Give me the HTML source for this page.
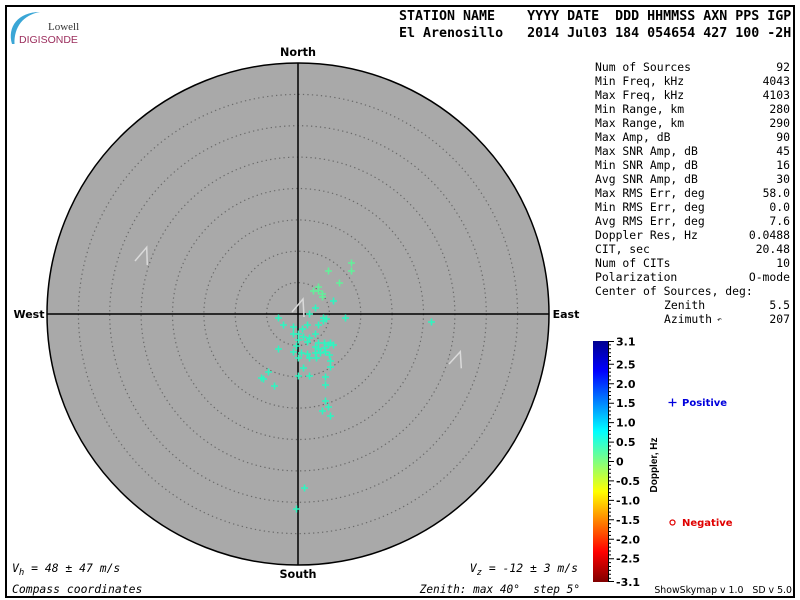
<!DOCTYPE html>
<html>
<head>
<meta charset="utf-8">
<style>
html,body{margin:0;padding:0;background:#fff;}
svg{display:block;}
.mono{font-family:"DejaVu Sans Mono","Liberation Mono",monospace;}
.bold{font-family:"DejaVu Sans","Liberation Sans",sans-serif;font-weight:bold;}
</style>
</head>
<body>
<svg width="800" height="600" viewBox="0 0 800 600" xmlns="http://www.w3.org/2000/svg">
<defs>
<linearGradient id="jet" x1="0" y1="0" x2="0" y2="1">
<stop offset="0" stop-color="#00008f"/>
<stop offset="0.125" stop-color="#0000ff"/>
<stop offset="0.375" stop-color="#00ffff"/>
<stop offset="0.5" stop-color="#80ff80"/>
<stop offset="0.625" stop-color="#ffff00"/>
<stop offset="0.875" stop-color="#ff0000"/>
<stop offset="1" stop-color="#800000"/>
</linearGradient>
</defs>
<rect x="0" y="0" width="800" height="600" fill="#fff"/>
<rect x="6" y="6" width="788" height="591" fill="none" stroke="#000" stroke-width="2"/>

<!-- logo -->
<path d="M12,44 C7,27 18,12 40,12 C23,15 14,27 14.5,44 Z" fill="#3aa6d6"/>
<text x="48" y="30" font-family="Liberation Serif, serif" font-size="11" fill="#333">Lowell</text>
<text x="19" y="43" font-family="Liberation Sans, sans-serif" font-size="10.5" fill="#9b2d5c">DIGISONDE</text>

<!-- header -->
<text class="mono" x="399" y="20" font-size="13.3" font-weight="bold" xml:space="preserve" style="white-space:pre">STATION NAME    YYYY DATE  DDD HHMMSS AXN PPS IGP</text>
<text class="mono" x="399" y="37" font-size="13.3" font-weight="bold" xml:space="preserve" style="white-space:pre">El Arenosillo   2014 Jul03 184 054654 427 100 -2H</text>

<!-- sky circle -->
<circle cx="298" cy="314" r="251" fill="#a9a9a9" stroke="#000" stroke-width="1.5"/>
<g fill="none" stroke="#6a6a6a" stroke-width="1.2" stroke-dasharray="1.3 3.2">
<circle cx="298" cy="314" r="31.4"/>
<circle cx="298" cy="314" r="62.8"/>
<circle cx="298" cy="314" r="94.1"/>
<circle cx="298" cy="314" r="125.5"/>
<circle cx="298" cy="314" r="156.9"/>
<circle cx="298" cy="314" r="188.3"/>
<circle cx="298" cy="314" r="219.6"/>
</g>
<line x1="47" y1="314" x2="549" y2="314" stroke="#000" stroke-width="1.5"/>
<line x1="298" y1="63" x2="298" y2="565" stroke="#000" stroke-width="1.5"/>

<!-- arrows -->
<g fill="none" stroke="#dadada" stroke-width="1.5">
<polyline points="135,261 146.7,247.3 147.3,265"/>
<polyline points="449,364 460.3,351.7 461.3,368.3"/>
<polyline points="292,312 303,299 304,317"/>
</g>

<!-- points -->
<g stroke="#62f09a" stroke-width="1.6" fill="none">
<path d="M348,263h7M351.5,259.5v7"/>
<path d="M348,271h7M351.5,267.5v7"/>
<path d="M325,271h7M328.5,267.5v7"/>
<path d="M336,283h7M339.5,279.5v7"/>
<path d="M315,287h7M318.5,283.5v7"/>
<path d="M310,291h7M313.5,287.5v7"/>
<path d="M315,291h7M318.5,287.5v7"/>
<path d="M319,294h7M322.5,290.5v7"/>
<path d="M319,297h7M322.5,293.5v7"/>
</g>
<g stroke="#2ef5c0" stroke-width="1.6" fill="none">
<path d="M330,301h7M333.5,297.5v7"/>
<path d="M312,308h7M315.5,304.5v7"/>
<path d="M306,314h7M309.5,310.5v7"/>
<path d="M320,318h7M323.5,314.5v7"/>
<path d="M323,319h7M326.5,315.5v7"/>
<path d="M342,318h7M345.5,314.5v7"/>
<path d="M275,318h7M278.5,314.5v7"/>
<path d="M280,325h7M283.5,321.5v7"/>
<path d="M290,327h7M293.5,323.5v7"/>
<path d="M299,329h7M302.5,325.5v7"/>
<path d="M304,325h7M307.5,321.5v7"/>
<path d="M315,325h7M318.5,321.5v7"/>
<path d="M320,321h7M323.5,317.5v7"/>
<path d="M290,334h7M293.5,330.5v7"/>
<path d="M295,334h7M298.5,330.5v7"/>
<path d="M312,334h7M315.5,330.5v7"/>
<path d="M300,337h7M303.5,333.5v7"/>
<path d="M306,338h7M309.5,334.5v7"/>
<path d="M304,342h7M307.5,338.5v7"/>
<path d="M295,340h7M298.5,336.5v7"/>
<path d="M315,343h7M318.5,339.5v7"/>
<path d="M321,343h7M324.5,339.5v7"/>
<path d="M327,343h7M330.5,339.5v7"/>
<path d="M330,345h7M333.5,341.5v7"/>
<path d="M325,345h7M328.5,341.5v7"/>
<path d="M293,346h7M296.5,342.5v7"/>
<path d="M275,349h7M278.5,345.5v7"/>
<path d="M312,347h7M315.5,343.5v7"/>
<path d="M315,349h7M318.5,345.5v7"/>
<path d="M321,348h7M324.5,344.5v7"/>
<path d="M290,352h7M293.5,348.5v7"/>
<path d="M298,353h7M301.5,349.5v7"/>
<path d="M304,354h7M307.5,350.5v7"/>
<path d="M312,353h7M315.5,349.5v7"/>
<path d="M317,353h7M320.5,349.5v7"/>
<path d="M322,352h7M325.5,348.5v7"/>
<path d="M326,355h7M329.5,351.5v7"/>
<path d="M295,358h7M298.5,354.5v7"/>
<path d="M306,358h7M309.5,354.5v7"/>
<path d="M313,358h7M316.5,354.5v7"/>
<path d="M327,361h7M330.5,357.5v7"/>
<path d="M300,368h7M303.5,364.5v7"/>
<path d="M327,367h7M330.5,363.5v7"/>
<path d="M265,372h7M268.5,368.5v7"/>
<path d="M258,378h7M261.5,374.5v7"/>
<path d="M260,379h7M263.5,375.5v7"/>
<path d="M295,376h7M298.5,372.5v7"/>
<path d="M306,376h7M309.5,372.5v7"/>
<path d="M322,377h7M325.5,373.5v7"/>
<path d="M271,386h7M274.5,382.5v7"/>
<path d="M322,385h7M325.5,381.5v7"/>
<path d="M322,401h7M325.5,397.5v7"/>
<path d="M325,407h7M328.5,403.5v7"/>
<path d="M319,411h7M322.5,407.5v7"/>
<path d="M327,416h7M330.5,412.5v7"/>
<path d="M428,322h7M431.5,318.5v7"/>
<path d="M301,488h7M304.5,484.5v7"/>
<path d="M293,509h7M296.5,505.5v7"/>
</g>

<!-- compass labels -->
<text class="bold" x="298" y="56" font-size="11.2" text-anchor="middle">North</text>
<text class="bold" x="298" y="578" font-size="11.2" text-anchor="middle">South</text>
<text class="bold" x="29" y="318" font-size="11" text-anchor="middle">West</text>
<text class="bold" x="566" y="318" font-size="11" text-anchor="middle">East</text>

<!-- stats table -->
<g class="mono" font-size="11.4" fill="#000">
<text x="595" y="71">Num of Sources</text><text x="790" y="71" text-anchor="end">92</text>
<text x="595" y="85">Min Freq, kHz</text><text x="790" y="85" text-anchor="end">4043</text>
<text x="595" y="99">Max Freq, kHz</text><text x="790" y="99" text-anchor="end">4103</text>
<text x="595" y="113">Min Range, km</text><text x="790" y="113" text-anchor="end">280</text>
<text x="595" y="127">Max Range, km</text><text x="790" y="127" text-anchor="end">290</text>
<text x="595" y="141">Max Amp, dB</text><text x="790" y="141" text-anchor="end">90</text>
<text x="595" y="155">Max SNR Amp, dB</text><text x="790" y="155" text-anchor="end">45</text>
<text x="595" y="169">Min SNR Amp, dB</text><text x="790" y="169" text-anchor="end">16</text>
<text x="595" y="183">Avg SNR Amp, dB</text><text x="790" y="183" text-anchor="end">30</text>
<text x="595" y="197">Max RMS Err, deg</text><text x="790" y="197" text-anchor="end">58.0</text>
<text x="595" y="211">Min RMS Err, deg</text><text x="790" y="211" text-anchor="end">0.0</text>
<text x="595" y="225">Avg RMS Err, deg</text><text x="790" y="225" text-anchor="end">7.6</text>
<text x="595" y="239">Doppler Res, Hz</text><text x="790" y="239" text-anchor="end">0.0488</text>
<text x="595" y="253">CIT, sec</text><text x="790" y="253" text-anchor="end">20.48</text>
<text x="595" y="267">Num of CITs</text><text x="790" y="267" text-anchor="end">10</text>
<text x="595" y="281">Polarization</text><text x="790" y="281" text-anchor="end">O-mode</text>
<text x="595" y="295">Center of Sources, deg:</text>
<text x="664" y="309">Zenith</text><text x="790" y="309" text-anchor="end">5.5</text>
<text x="664" y="323">Azimuth</text><text x="717" y="322" font-size="8">↶</text><text x="790" y="323" text-anchor="end">207</text>
</g>

<!-- colorbar -->
<rect x="593" y="341" width="15" height="241" fill="url(#jet)"/>
<line x1="608.5" y1="341" x2="608.5" y2="582" stroke="#000" stroke-width="1"/>
<g stroke="#000" stroke-width="1">
<path d="M608,344.9h3M608,348.8h3M608,352.7h3M608,356.5h3M608,360.4h3M608,368.2h3M608,372.1h3M608,376h3M608,379.9h3M608,387.7h3M608,391.6h3M608,395.5h3M608,399.3h3M608,407.1h3M608,411h3M608,414.9h3M608,418.8h3M608,426.6h3M608,430.5h3M608,434.3h3M608,438.2h3M608,446h3M608,449.9h3M608,453.8h3M608,457.7h3M608,465.4h3M608,469.3h3M608,473.2h3M608,477.1h3M608,484.8h3M608,488.7h3M608,492.6h3M608,496.5h3M608,504.3h3M608,508.2h3M608,512.1h3M608,516h3M608,523.7h3M608,527.6h3M608,531.5h3M608,535.4h3M608,543.2h3M608,547.1h3M608,551h3M608,554.9h3M608,562.6h3M608,566.5h3M608,570.4h3M608,574.3h3M608,578.2h3"/>
<path d="M608,341.5h6M608,364.3h6M608,383.8h6M608,403.2h6M608,422.6h6M608,442.1h6M608,461.5h6M608,480.9h6M608,500.4h6M608,519.8h6M608,539.3h6M608,558.7h6M608,581.5h6"/>
</g>
<g class="bold" font-size="11" fill="#000">
<text x="616" y="345.5">3.1</text>
<text x="616" y="368.3">2.5</text>
<text x="616" y="387.8">2.0</text>
<text x="616" y="407.2">1.5</text>
<text x="616" y="426.6">1.0</text>
<text x="616" y="446.1">0.5</text>
<text x="616" y="465.5">0</text>
<text x="616" y="484.9">-0.5</text>
<text x="616" y="504.4">-1.0</text>
<text x="616" y="523.8">-1.5</text>
<text x="616" y="543.3">-2.0</text>
<text x="616" y="562.7">-2.5</text>
<text x="616" y="586">-3.1</text>
</g>
<text x="0" y="0" font-family="Liberation Sans, sans-serif" font-weight="bold" font-size="10" text-anchor="middle" transform="translate(657,465) rotate(-90)">Doppler, Hz</text>

<!-- legend -->
<path d="M668.5,402.5h8M672.5,398.5v8" stroke="#0000dd" stroke-width="1.3"/>
<text class="bold" x="682" y="406" font-size="10" fill="#0000dd">Positive</text>
<circle cx="672.5" cy="522.5" r="2.5" fill="none" stroke="#e00000" stroke-width="1.2"/>
<text class="bold" x="682" y="526" font-size="10" fill="#e00000">Negative</text>

<text x="792" y="593" font-family="DejaVu Sans, Liberation Sans, sans-serif" font-size="9.4" text-anchor="end" xml:space="preserve" style="white-space:pre">ShowSkymap v 1.0   SD v 5.0</text>

<!-- bottom texts -->
<g class="mono" font-size="11.4" font-style="italic">
<text x="12" y="572" xml:space="preserve" style="white-space:pre">V<tspan font-size="9" dy="3">h</tspan><tspan dy="-3"> = 48 ± 47 m/s</tspan></text>
<text x="12" y="593">Compass coordinates</text>
<text x="578" y="572" text-anchor="end" xml:space="preserve" style="white-space:pre">V<tspan font-size="9" dy="3">z</tspan><tspan dy="-3"> = -12 ± 3 m/s</tspan></text>
<text x="580" y="593" text-anchor="end" font-size="11.1" xml:space="preserve" style="white-space:pre">Zenith: max 40°  step 5°</text>
</g>
</svg>
</body>
</html>
